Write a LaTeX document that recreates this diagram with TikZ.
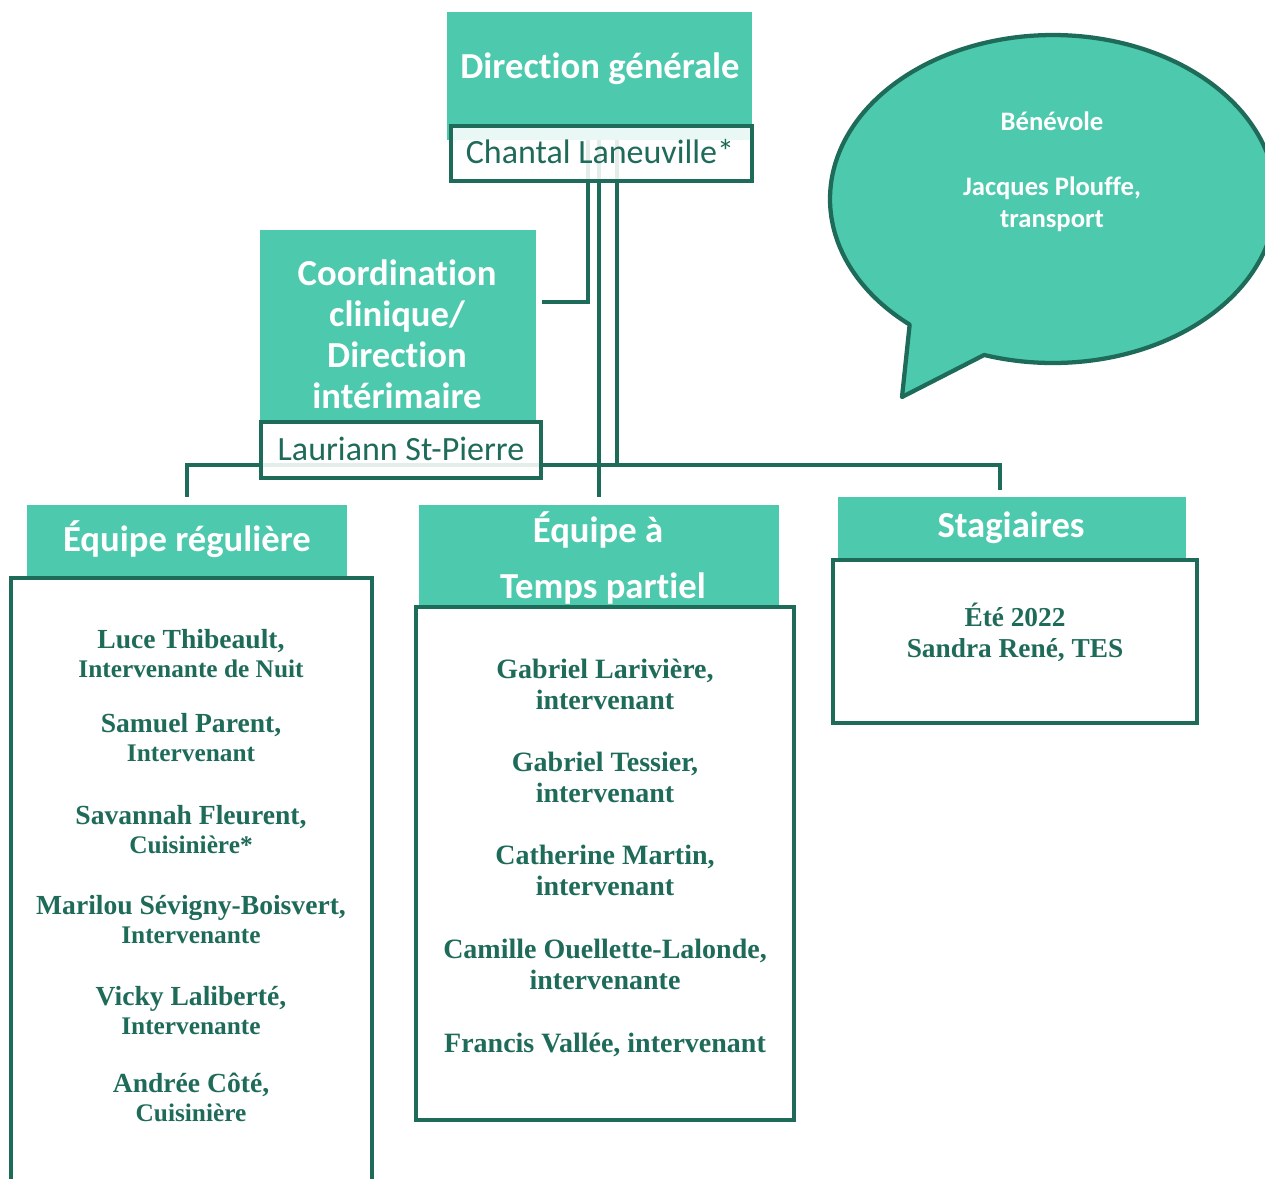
\documentclass[tikz,border=0pt]{standalone}
\usepackage{fontspec}
\setmainfont{Liberation Serif}
\newfontfamily\carl[Ligatures=NoCommon]{Carlito}
\definecolor{teal1}{RGB}{77,201,173}
\definecolor{dkg}{RGB}{31,107,89}
\tikzset{
  hdr/.style={fill=teal1, draw=none, inner sep=0pt},
  namebox/.style={draw=dkg, line width=3.2pt, fill=white, fill opacity=0.88, text opacity=1, inner sep=0pt},
  listbox/.style={draw=dkg, line width=3.2pt, fill=white, inner sep=0pt},
  conn/.style={draw=dkg, line width=3.5pt},
  htext/.style={text=white, font=\carl\bfseries\fontsize{27.5}{30}\selectfont, inner sep=0pt, anchor=base},
  ntext/.style={text=dkg, font=\carl\fontsize{25.5}{30}\selectfont, inner sep=0pt, anchor=base},
  btext/.style={text=white, font=\carl\bfseries\fontsize{20}{24}\selectfont, inner sep=0pt, anchor=base},
  lone/.style={text=dkg, font=\bfseries\fontsize{20.7}{24}\selectfont, inner sep=0pt, anchor=base},
  ltwo/.style={text=dkg, font=\bfseries\fontsize{19}{24}\selectfont, inner sep=0pt, anchor=base},
  mtext/.style={text=dkg, font=\bfseries\fontsize{21}{24}\selectfont, inner sep=0pt, anchor=base},
  stext/.style={text=dkg, font=\bfseries\fontsize{20.5}{24}\selectfont, inner sep=0pt, anchor=base},
  bubble/.style={fill=teal1, draw=dkg, line width=3.2pt, line join=round}
}
\begin{document}
\begin{tikzpicture}[x=0.75pt,y=-0.75pt]
\useasboundingbox (0,0) rectangle (1265,1179);
\clip (0,0) rectangle (1265,1179);

% speech bubble
\draw[bubble] plot[domain=130:468,samples=240] ({1053+223*cos(\x)},{199+164*sin(\x)}) -- (902,397) -- cycle;
\node[btext] (ben) at (1052,130) {Bénévole};
\node[btext] (jac) at (1052,195) {Jacques Plouffe,};
\node[btext] (tra) at (1052,227) {transport};

% headers
\node[hdr, minimum width=305*0.75pt, minimum height=128*0.75pt] (dg) at (599.5,76) {};
\node[hdr, minimum width=276*0.75pt, minimum height=190*0.75pt] (coord) at (398,325) {};
\node[hdr, minimum width=320*0.75pt, minimum height=72*0.75pt] (reg) at (187,541) {};
\node[hdr, minimum width=360*0.75pt, minimum height=100*0.75pt] (tp) at (599,555) {};
\node[hdr, minimum width=348*0.75pt, minimum height=61*0.75pt] (stag) at (1012,527.5) {};

% connectors
\coordinate (xa) at (588,0);
\coordinate (bus) at (617,465);
\draw[conn] (dg.south -| xa) |- ([xshift=4pt,yshift=17.25pt]coord.east);
\draw[conn] (dg.south -| tp.north) -- ([yshift=6pt]tp.north);
\draw[conn] (dg.south -| bus) -- (bus) -| ([xshift=-9pt,yshift=5.25pt]stag.north);
\draw[conn] (bus) -| ([yshift=6pt]reg.north);

% name boxes
\node[namebox, minimum width=301*0.75pt, minimum height=55*0.75pt] (chantal) at (601.5,153.5) {};
\node[namebox, minimum width=280*0.75pt, minimum height=56*0.75pt] (lauriann) at (401,450) {};

% list boxes
\node[listbox, minimum width=361*0.75pt, minimum height=622*0.75pt] (regbox) at (191.5,889) {};
\node[listbox, minimum width=378*0.75pt, minimum height=513*0.75pt] (tpbox) at (605,863.5) {};
\node[listbox, minimum width=364*0.75pt, minimum height=163*0.75pt] (stagbox) at (1015,641.5) {};

% header texts
\node[htext] (dgt) at (600,78) {Direction générale};
\node[ntext] (cht) at (600,163) {Chantal Laneuville*};
\node[htext] (co1) at (397,285) {Coordination};
\node[htext] (co2) at (397,326) {clinique/};
\node[htext] (co3) at (397,367) {Direction};
\node[htext] (co4) at (397,408) {intérimaire};
\node[ntext] (lat) at (401,460) {Lauriann St-Pierre};
\node[htext] (regt) at (187,551) {Équipe régulière};
\node[htext] (tpt1) at (598,542) {Équipe à};
\node[htext] (tpt2) at (603,598) {Temps partiel};
\node[htext] (stagt) at (1011,537) {Stagiaires};

% regular team
\foreach \i/\y/\a/\b in {1/648/{Luce Thibeault,}/{Intervenante de Nuit},
  2/732/{Samuel Parent,}/{Intervenant},
  3/824/{Savannah Fleurent,}/{Cuisinière*},
  4/914/{Marilou Sévigny-Boisvert,}/{Intervenante},
  5/1005/{Vicky Laliberté,}/{Intervenante},
  6/1092/{Andrée Côté,}/{Cuisinière}}{
  \node[lone] (r\i-a) at (191,\y) {\a};
  \node[ltwo] (r\i-b) at (191,\y+29) {\b};
}

% part-time team
\foreach \i/\y/\a/\b in {1/678/{Gabriel Larivière,}/{intervenant},
  2/771/{Gabriel Tessier,}/{intervenant},
  3/864/{Catherine Martin,}/{intervenant},
  4/958/{Camille Ouellette-Lalonde,}/{intervenante}}{
  \node[mtext] (t\i-a) at (605,\y) {\a};
  \node[mtext] (t\i-b) at (605,\y+31) {\b};
}
\node[mtext] (t5-a) at (605,1052) {Francis Vallée, intervenant};

% interns
\node[stext] (s1) at (1015,626) {Été 2022};
\node[stext] (s2) at (1015,657) {Sandra René, TES};
\end{tikzpicture}
\end{document}
